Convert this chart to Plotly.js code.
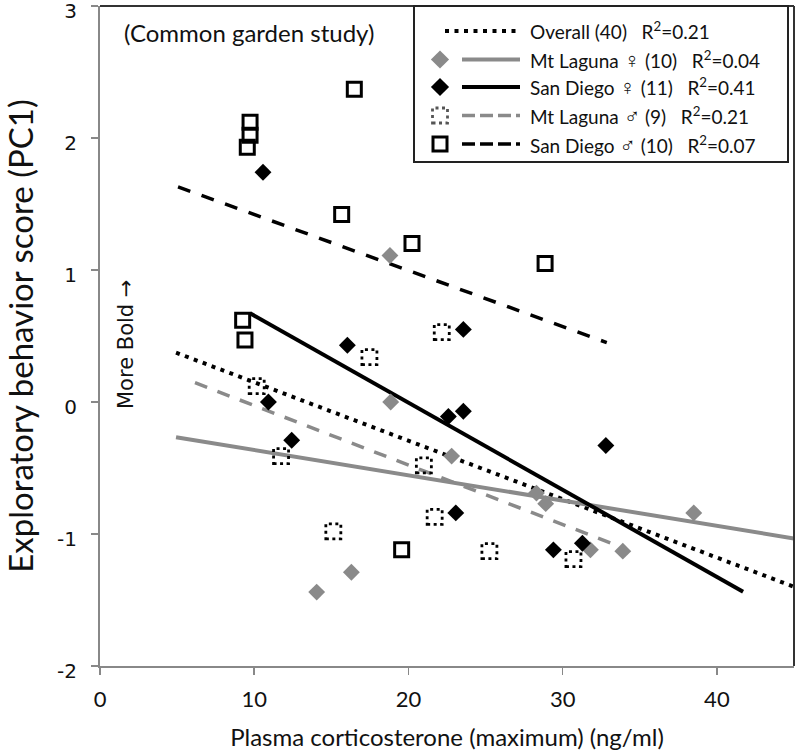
<!DOCTYPE html>
<html>
<head>
<meta charset="utf-8">
<script src="https://cdn.plot.ly/plotly-3.0.1.min.js"></script>
<style>html,body{margin:0;padding:0;background:#fff;}#chart{width:797px;height:753px;}</style>
</head>
<body>
<div id="chart"></div>
<script>
// ---- data ----
// Mt Laguna female (grey diamonds)
var mlF_x = [18.8, 18.85, 22.8, 28.3, 28.9, 38.5, 31.8, 33.9, 16.3, 14.05];
var mlF_y = [1.11, 0.00, -0.41, -0.69, -0.77, -0.84, -1.12, -1.13, -1.29, -1.44];
// San Diego female (black diamonds)
var sdF_x = [10.57, 16.04, 23.56, 10.92, 12.43, 22.59, 23.56, 32.8, 23.07, 29.4, 31.28];
var sdF_y = [1.74, 0.43, 0.55, 0.00, -0.29, -0.11, -0.07, -0.33, -0.84, -1.12, -1.07];
// Mt Laguna male (dotted squares)
var mlM_x = [17.47, 22.16, 10.16, 11.74, 21.0, 21.7, 15.13, 25.25, 30.7];
var mlM_y = [0.34, 0.53, 0.12, -0.41, -0.48, -0.87, -0.98, -1.13, -1.19];
// San Diego male (open squares)
var sdM_x = [16.49, 9.73, 9.73, 9.55, 15.67, 20.23, 28.86, 9.25, 9.40, 19.56];
var sdM_y = [2.37, 2.12, 2.02, 1.93, 1.42, 1.20, 1.05, 0.62, 0.47, -1.12];

// regression lines (end points)
var overallLine_x = [4.93, 45.0];
var overallLine_y = [0.374, -1.40];
var mlFLine_x = [4.93, 45.0];
var mlFLine_y = [-0.267, -1.034];
var sdFLine_x = [9.73, 41.7];
var sdFLine_y = [0.672, -1.437];
var mlMLine_x = [6.16, 34.05];
var mlMLine_y = [0.146, -1.11];
var sdMLine_x = [5.06, 32.86];
var sdMLine_y = [1.63, 0.45];

// tick labels
var xTicks = [0, 10, 20, 30, 40];
var yTicks = [-2, -1, 0, 1, 2, 3];

// legend texts
var SP = '\u00a0\u00a0\u00a0';
var SYM = function(s){ return '<span style="font-size:22px;">' + s + '</span>'; };
var legendLabels = [
  'Overall (40)' + SP + 'R<sup>2</sup>=0.21',
  'Mt Laguna ' + SYM('\u2640') + ' (10)' + SP + 'R<sup>2</sup>=0.04',
  'San Diego ' + SYM('\u2640') + ' (11)' + SP + 'R<sup>2</sup>=0.41',
  'Mt Laguna ' + SYM('\u2642') + ' (9)' + SP + 'R<sup>2</sup>=0.21',
  'San Diego ' + SYM('\u2642') + ' (10)' + SP + 'R<sup>2</sup>=0.07'
];

// ---- styling ----
var GREY = '#8a8a8a';
var BLACK = '#000000';
var FONT = 'Lato, Liberation Sans, sans-serif';
var VFONT = 'DejaVu Sans, Verdana, sans-serif';
var W = 797, H = 753, ML = 100, MR = 3, MT = 6, MB = 87;
var PW = W - ML - MR, PH = H - MT - MB;
function px2x(px){ return (px - ML) / PW; }
function px2y(py){ return (H - MB - py) / PH; }

var traces = [];
// regression lines
traces.push({x: overallLine_x, y: overallLine_y, mode: 'lines', line: {color: BLACK, width: 4, dash: '4px,5.5px'}, showlegend: false, hoverinfo: 'skip'});
traces.push({x: mlFLine_x, y: mlFLine_y, mode: 'lines', line: {color: GREY, width: 4}, showlegend: false, hoverinfo: 'skip'});
traces.push({x: mlMLine_x, y: mlMLine_y, mode: 'lines', line: {color: GREY, width: 3.5, dash: '13px,11px'}, showlegend: false, hoverinfo: 'skip'});
traces.push({x: sdMLine_x, y: sdMLine_y, mode: 'lines', line: {color: BLACK, width: 3.5, dash: '13px,12px'}, showlegend: false, hoverinfo: 'skip'});
traces.push({x: sdFLine_x, y: sdFLine_y, mode: 'lines', line: {color: BLACK, width: 4}, showlegend: false, hoverinfo: 'skip'});

// markers
traces.push({x: mlF_x, y: mlF_y, mode: 'markers', name: 'Mt Laguna \u2640', marker: {symbol: 'diamond', size: 13, color: GREY}, showlegend: false});
traces.push({x: sdF_x, y: sdF_y, mode: 'markers', name: 'San Diego \u2640', marker: {symbol: 'diamond', size: 13, color: BLACK}, showlegend: false});
traces.push({x: sdM_x, y: sdM_y, mode: 'markers', name: 'San Diego \u2642', marker: {symbol: 'square-open', size: 14, color: BLACK, line: {width: 3, color: BLACK}}, showlegend: false});
traces.push({x: mlM_x, y: mlM_y, mode: 'markers', name: 'Mt Laguna \u2642', marker: {symbol: 'square', size: 14, color: 'rgba(0,0,0,0)'}, showlegend: false});

// dotted squares for Mt Laguna male, built from the data arrays
var shapes = [];
for (var i = 0; i < mlM_x.length; i++) {
  shapes.push({type: 'rect', xref: 'x', yref: 'y', xsizemode: 'pixel', ysizemode: 'pixel',
    xanchor: mlM_x[i], yanchor: mlM_y[i], x0: -7.5, x1: 7.5, y0: -7.5, y1: 7.5,
    line: {color: BLACK, width: 2.8, dash: '3px,3.5px'}, fillcolor: 'rgba(0,0,0,0)'});
}
// plot frame: top and right borders darker
shapes.push({type: 'line', xref: 'paper', yref: 'paper', x0: 0, x1: 1, y0: 1, y1: 1, line: {color: '#333', width: 2}});
shapes.push({type: 'line', xref: 'paper', yref: 'paper', x0: 1, x1: 1, y0: 0, y1: 1, line: {color: '#333', width: 2}});
// legend box
shapes.push({type: 'rect', xref: 'paper', yref: 'paper', x0: px2x(414), x1: px2x(788), y0: px2y(162), y1: 1,
  line: {color: '#222', width: 2}, fillcolor: 'rgba(255,255,255,0)'});

// custom legend (symbols on an overlay axis spanning the plot area)
var rowsY = [31, 59.5, 87, 115.5, 144].map(px2y);
var mkX = px2x(440);
traces.push({x: [px2x(445), px2x(517)], y: [rowsY[0], rowsY[0]], xaxis: 'x2', yaxis: 'y2', mode: 'lines', line: {color: BLACK, width: 4, dash: '4px,5.5px'}, showlegend: false, hoverinfo: 'skip'});
traces.push({x: [px2x(462), px2x(520)], y: [rowsY[1], rowsY[1]], xaxis: 'x2', yaxis: 'y2', mode: 'lines', line: {color: GREY, width: 4}, showlegend: false, hoverinfo: 'skip'});
traces.push({x: [px2x(462), px2x(520)], y: [rowsY[2], rowsY[2]], xaxis: 'x2', yaxis: 'y2', mode: 'lines', line: {color: BLACK, width: 4}, showlegend: false, hoverinfo: 'skip'});
traces.push({x: [px2x(462), px2x(520)], y: [rowsY[3], rowsY[3]], xaxis: 'x2', yaxis: 'y2', mode: 'lines', line: {color: GREY, width: 3.5, dash: '13px,5px'}, showlegend: false, hoverinfo: 'skip'});
traces.push({x: [px2x(462), px2x(520)], y: [rowsY[4], rowsY[4]], xaxis: 'x2', yaxis: 'y2', mode: 'lines', line: {color: BLACK, width: 3.5, dash: '13px,5px'}, showlegend: false, hoverinfo: 'skip'});
traces.push({x: [mkX], y: [rowsY[1]], xaxis: 'x2', yaxis: 'y2', mode: 'markers', marker: {symbol: 'diamond', size: 14, color: GREY}, showlegend: false, hoverinfo: 'skip'});
traces.push({x: [mkX], y: [rowsY[2]], xaxis: 'x2', yaxis: 'y2', mode: 'markers', marker: {symbol: 'diamond', size: 14, color: BLACK}, showlegend: false, hoverinfo: 'skip'});
traces.push({x: [mkX], y: [rowsY[4]], xaxis: 'x2', yaxis: 'y2', mode: 'markers', marker: {symbol: 'square-open', size: 14, color: BLACK, line: {width: 3, color: BLACK}}, showlegend: false, hoverinfo: 'skip'});
shapes.push({type: 'rect', xref: 'paper', yref: 'paper', xsizemode: 'pixel', ysizemode: 'pixel',
  xanchor: mkX, yanchor: rowsY[3], x0: -7.5, x1: 7.5, y0: -7.5, y1: 7.5,
  line: {color: '#555', width: 2.8, dash: '3px,3.5px'}, fillcolor: 'rgba(0,0,0,0)'});

var annotations = [];
for (var k = 0; k < legendLabels.length; k++) {
  annotations.push({xref: 'paper', yref: 'paper', x: px2x(528), y: rowsY[k], xanchor: 'left', yanchor: 'middle',
    text: legendLabels[k], showarrow: false, font: {family: FONT, size: 19, color: '#111'}});
}
annotations.push({xref: 'paper', yref: 'paper', x: px2x(122), y: px2y(32), xanchor: 'left', yanchor: 'middle',
  text: '(Common garden study)', showarrow: false, font: {family: FONT, size: 24, color: '#111'}});
annotations.push({xref: 'paper', yref: 'paper', x: px2x(126), y: px2y(345), xanchor: 'center', yanchor: 'middle',
  text: 'More Bold \u2192', textangle: -90, showarrow: false, font: {family: VFONT, size: 21, color: '#111'}});

var layout = {
  width: W, height: H,
  margin: {l: ML, r: MR, t: MT, b: MB, pad: 0},
  paper_bgcolor: '#fff', plot_bgcolor: '#fff',
  showlegend: false,
  xaxis: {range: [0, 45], tickvals: xTicks, ticktext: xTicks.map(String), showgrid: false, zeroline: false,
    showline: true, linecolor: '#888', linewidth: 2, ticks: 'outside', ticklen: 7, tickwidth: 1.5, tickcolor: '#888',
    tickfont: {family: FONT, size: 22, color: '#111'}, ticklabelstandoff: 6, ticklabeloverflow: 'allow',
    title: {text: 'Plasma corticosterone (maximum) (ng/ml)', font: {family: FONT, size: 24, color: '#111'}, standoff: 18}},
  yaxis: {range: [-2, 3], tickvals: yTicks, ticktext: yTicks.map(String), showgrid: false, zeroline: false,
    showline: true, linecolor: '#888', linewidth: 2, ticks: 'outside', ticklen: 7, tickwidth: 1.5, tickcolor: '#888',
    tickfont: {family: VFONT, size: 20, color: '#111'}, ticklabelstandoff: 10, ticklabeloverflow: 'allow', ticklabelshift: 5,
    title: {text: 'Exploratory behavior score (PC1)', font: {family: FONT, size: 33, color: '#111'}, standoff: 13}},
  xaxis2: {overlaying: 'x', anchor: 'y2', range: [0, 1], visible: false, fixedrange: true},
  yaxis2: {overlaying: 'y', anchor: 'x2', range: [0, 1], visible: false, fixedrange: true},
  shapes: shapes,
  annotations: annotations
};

Plotly.newPlot('chart', traces, layout, {displayModeBar: false, staticPlot: true});
</script>
</body>
</html>
